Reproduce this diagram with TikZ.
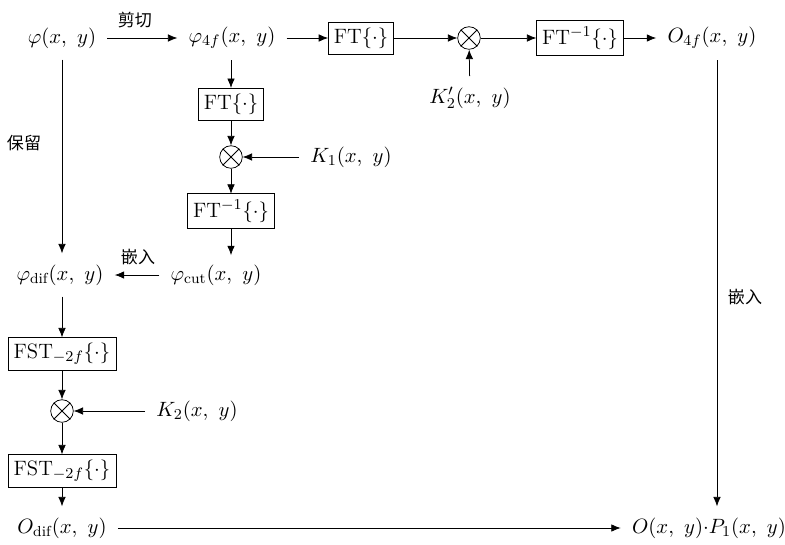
\documentclass[tikz,border=0pt]{standalone}
\usepackage{fontspec}
\newfontfamily\cjk{Noto Sans CJK SC}
\usetikzlibrary{arrows.meta}

\begin{document}
\begin{tikzpicture}[
    >={Latex[length=5pt,width=4pt]}, x=0.0186cm, y=-0.0186cm,
    every node/.style={font=\fontsize{11}{13.2}\selectfont},
    box/.style={draw, inner sep=3pt, outer sep=0pt},
    sig/.style={inner sep=1pt, outer sep=5pt},
    mult/.style={draw, circle, minimum size=0.42cm, inner sep=0pt},
    lbl/.style={font=\cjk\small}
  ]
  \useasboundingbox (0,0) rectangle (785,545);

  % top row
  \node[sig] (phi) at (62,38) {$\varphi(x,\ y)$};
  \node[sig] (p4f) at (232,38) {$\varphi_{4f}(x,\ y)$};
  \node[box] (ft) at (361,38) {$\mathrm{FT}\{\cdot\}$};
  \node[mult] (m2) at (469,38) {};
  \node[box] (ift) at (580,38) {$\mathrm{FT}^{-1}\{\cdot\}$};
  \node[sig] (o4f) at (712,38) {$O_{4f}(x,\ y)$};
  \node[sig] (k2p) at (470,98) {$K_2'(x,\ y)$};

  % middle branch
  \node[box] (ft1) at (231,104) {$\mathrm{FT}\{\cdot\}$};
  \node[mult] (m1) at (231,157) {};
  \node[sig] (k1) at (351,157) {$K_1(x,\ y)$};
  \node[box] (ift1) at (231,211) {$\mathrm{FT}^{-1}\{\cdot\}$};
  \node[sig] (cut) at (216,275) {$\varphi_{\mathrm{cut}}(x,\ y)$};

  % left branch
  \node[sig] (dif) at (60,275) {$\varphi_{\mathrm{dif}}(x,\ y)$};
  \node[box] (fst1) at (62,354) {$\mathrm{FST}_{-2f}\{\cdot\}$};
  \node[mult] (m3) at (62,411) {};
  \node[sig] (k2) at (197,411) {$K_2(x,\ y)$};
  \node[box] (fst2) at (62,471) {$\mathrm{FST}_{-2f}\{\cdot\}$};
  \node[sig] (odif) at (62,528) {$O_{\mathrm{dif}}(x,\ y)$};
  \node[sig] (out) at (709,528) {$O(x,\ y){\cdot}P_1(x,\ y)$};

  % labels
  \node[lbl] (cutlbl) at (135,20) {剪切};
  \node[lbl] (keep) at (24,143) {保留};
  \node[lbl] (emb1) at (138,257) {嵌入};
  \node[lbl] (emb2) at (745,297) {嵌入};

  \foreach \m in {m1, m2, m3} {
    \draw (\m.north west) -- (\m.south east);
    \draw (\m.north east) -- (\m.south west);
  }

  \draw[->] (phi) -- (p4f);
  \draw[->] (p4f) -- (ft);
  \draw[->] (ft) -- (m2);
  \draw[->] (m2) -- (ift);
  \draw[->] (ift) -- (o4f);
  \draw[->] (k2p) -- (m2);
  \draw[->] (p4f.south -| ft1) -- (ft1);
  \draw[->] (ft1) -- (m1);
  \draw[->] (k1) -- (m1);
  \draw[->] (m1) -- (ift1);
  \draw[->] (ift1) -- ([yshift=-1pt]ift1.south |- cut.north);
  \draw[->] (cut) -- (dif);
  \draw[->] (phi.south) -- (dif.north -| phi.south);
  \draw[->] (dif.south -| fst1) -- (fst1);
  \draw[->] (fst1) -- (m3);
  \draw[->] (k2) -- (m3);
  \draw[->] (m3) -- (fst2);
  \draw[->] (fst2) -- (odif);
  \draw[->] (odif) -- (out);
  \draw[->] (o4f.south -| 717,0) -- (out.north -| 717,0);
\end{tikzpicture}
\end{document}
